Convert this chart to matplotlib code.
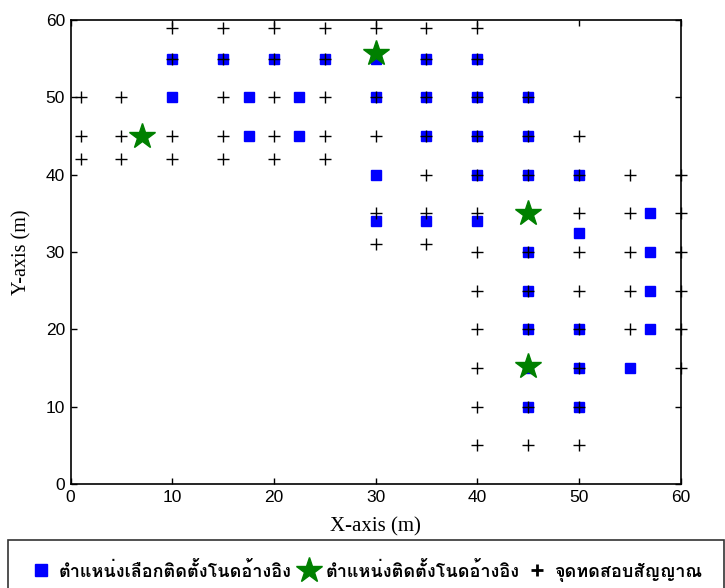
import numpy as np
import matplotlib
matplotlib.use('Agg')
import matplotlib.pyplot as plt
from matplotlib import font_manager, ft2font
from matplotlib.lines import Line2D

# candidate positions chosen for reference nodes (blue squares)
sq_x = [10, 15, 20, 25, 30, 35, 40,
        10, 17.5, 22.5, 30, 35, 40, 45,
        17.5, 22.5, 35, 40, 45,
        30, 40, 45, 50,
        30, 35, 40, 57, 50,
        45, 57, 45, 57, 45, 50, 57,
        45, 50, 55, 45, 50]
sq_y = [55, 55, 55, 55, 55, 55, 55,
        50, 50, 50, 50, 50, 50, 50,
        45, 45, 45, 45, 45,
        40, 40, 40, 40,
        34, 34, 34, 35, 32.5,
        30, 30, 25, 25, 20, 20, 20,
        15, 15, 15, 10, 10]

# installed reference nodes (green stars)
star_x = [7, 30, 45, 45]
star_y = [45, 55.7, 35, 15.3]

# signal test points (black plus)
pt_x = [10, 15, 20, 25, 30, 35, 40,
        10, 15, 20, 25, 35, 40,
        1, 5, 15, 20, 25, 30, 35, 40, 45,
        1, 5, 10, 15, 20, 25, 30, 35, 40, 45, 50,
        1, 5, 10, 15, 20, 25,
        35, 40, 45, 50, 55, 60,
        30, 35, 40, 50, 55, 60,
        30, 35,
        40, 45, 50, 55, 60,
        40, 45, 50, 55, 60,
        40, 45, 50, 55, 60,
        40, 50, 60,
        40, 45, 50,
        40, 45, 50]
pt_y = [59, 59, 59, 59, 59, 59, 59,
        55, 55, 55, 55, 55, 55,
        50, 50, 50, 50, 50, 50, 50, 50, 50,
        45, 45, 45, 45, 45, 45, 45, 45, 45, 45, 45,
        42, 42, 42, 42, 42, 42,
        40, 40, 40, 40, 40, 40,
        35, 35, 35, 35, 35, 35,
        31, 31,
        30, 30, 30, 30, 30,
        25, 25, 25, 25, 25,
        20, 20, 20, 20, 20,
        15, 15, 15,
        10, 10, 10,
        5, 5, 5]

labels = ['ตำแหน่งเลือกติดตั้งโนดอ้างอิง',
          'ตำแหน่งติดตั้งโนดอ้างอิง',
          'จุดทดสอบสัญญาณ']
ticks = [0, 10, 20, 30, 40, 50, 60]


def thai_font():
    # first installed family that has Thai glyphs
    for f in font_manager.fontManager.ttflist:
        try:
            if 0x0E01 in ft2font.FT2Font(f.fname).get_charmap():
                return f.name
        except Exception:
            pass
    return 'DejaVu Sans'


plt.rcParams['font.family'] = ['Liberation Sans', 'DejaVu Sans']

fig = plt.figure(figsize=(7.25, 5.88), dpi=100)
ax = fig.add_axes([70.6 / 725, 1 - 484 / 588, 610 / 725, 464 / 588])

ax.plot(sq_x, sq_y, 's', color='blue', ms=7.5, mec='blue', zorder=2)
ax.plot(pt_x, pt_y, '+', color='black', ms=8.5, mew=1, zorder=3, clip_on=False)
ax.plot(star_x, star_y, '*', color='green', ms=19, mec='green', zorder=4)

ax.set_xlim(0, 60)
ax.set_ylim(0, 60)
ax.set_xticks(ticks)
ax.set_yticks(ticks)
ax.tick_params(direction='in', top=True, right=True, length=4, width=1,
               labelsize=12.5, pad=4)
for s in ax.spines.values():
    s.set_linewidth(1.2)

ax.set_xlabel('X-axis (m)', family='Liberation Serif', fontsize=15, labelpad=9)
ax.set_ylabel('Y-axis (m)', family='Liberation Serif', fontsize=14.5, labelpad=10)

handles = [Line2D([], [], ls='none', marker='s', color='blue', ms=8),
           Line2D([], [], ls='none', marker='*', color='green', ms=19),
           Line2D([], [], ls='none', marker='+', color='black', ms=9, mew=2)]
leg = fig.legend(handles, labels, loc='upper center', ncol=3,
                 bbox_to_anchor=(366 / 725, 1 - 540 / 588),
                 prop={'family': [thai_font(), 'DejaVu Sans'], 'size': 13, 'weight': 'bold'},
                 frameon=True, fancybox=False, edgecolor='black',
                 handletextpad=0.3, handlelength=1.3, borderpad=1.2,
                 columnspacing=0.3, borderaxespad=0)
leg.get_frame().set_linewidth(1.2)

fig.savefig('out.png', dpi=100)
